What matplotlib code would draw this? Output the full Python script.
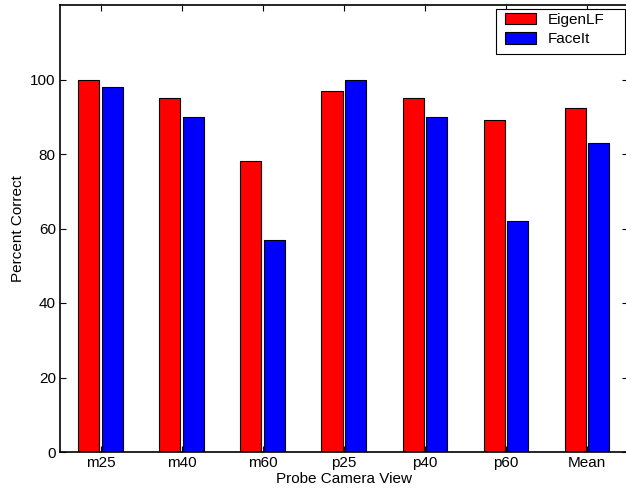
import numpy as np
import matplotlib
matplotlib.use('Agg')
import matplotlib.pyplot as plt
from matplotlib.patches import Rectangle

# data
views = ['m25', 'm40', 'm60', 'p25', 'p40', 'p60', 'Mean']
eigenlf = [100, 95, 78, 97, 95, 89, 92.4]
faceit = [98, 90, 57, 100, 90, 62, 82.9]
yticks = [0, 20, 40, 60, 80, 100]

plt.rcParams['font.family'] = ['Liberation Sans', 'DejaVu Sans']

W, H = 626, 495
fig = plt.figure(figsize=(W / 100, H / 100), dpi=100)
ax = fig.add_axes([60 / W, (H - 452) / H, (627.5 - 60) / W, (452 - 5) / H])

x = np.arange(1, len(views) + 1)
bw = 0.26
ax.bar(x - 0.145, eigenlf, bw, color='#ff0000', edgecolor='black', linewidth=0.8, label='EigenLF')
ax.bar(x + 0.145, faceit, bw, color='#0000ff', edgecolor='black', linewidth=0.8, label='FaceIt')

ax.set_xlim(0.5, 7.5)
ax.set_ylim(0, 120)
ax.set_xticks(x)
ax.set_xticklabels(views)
ax.set_yticks(yticks)
ax.tick_params(direction='in', length=4, width=0.8, labelsize=11,
               top=True, right=True, pad=3)
for s in ax.spines.values():
    s.set_linewidth(1.2)

ax.set_xlabel('Probe Camera View', fontsize=11, labelpad=1)
ax.set_ylabel('Percent Correct', fontsize=11, labelpad=4)

# MATLAB-style legend box: wider on the right than the entries need
ax.add_patch(Rectangle((496 / W, (H - 54) / H), 129 / W, 45 / H,
                       transform=fig.transFigure, facecolor='white',
                       edgecolor='black', linewidth=0.8, clip_on=False, zorder=4))
leg = ax.legend(loc='upper left', bbox_to_anchor=(505 / W, (H - 13) / H),
                bbox_transform=fig.transFigure, fontsize=11, frameon=False,
                borderaxespad=0, borderpad=0, handlelength=2.05,
                handleheight=0.75, handletextpad=0.72, labelspacing=0.35)
leg.set_zorder(5)

fig.savefig('out.png', dpi=100)
